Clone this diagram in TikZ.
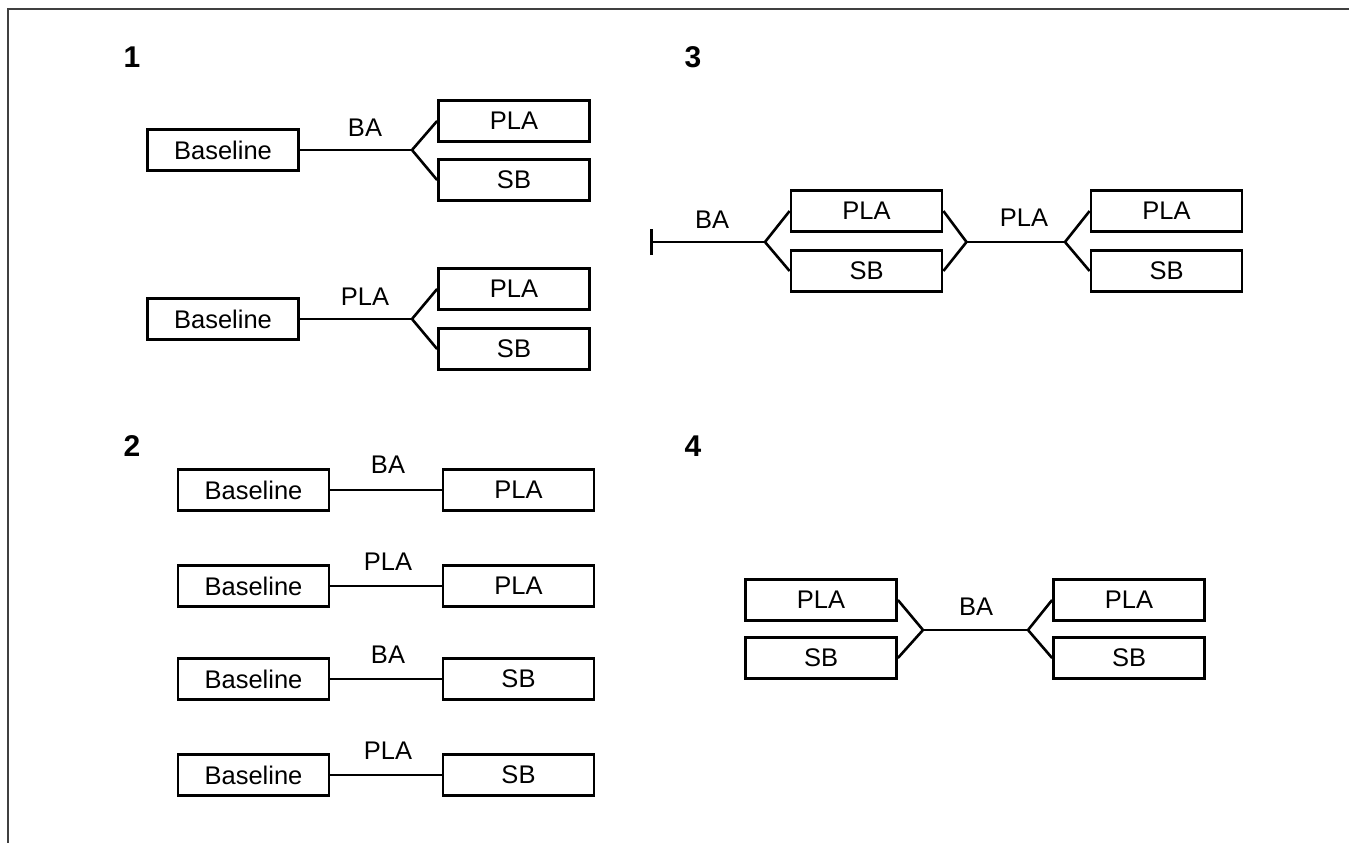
\documentclass[tikz,border=0pt]{standalone}
\usepackage{fontspec}
\setmainfont{Liberation Sans}
\begin{document}
\begin{tikzpicture}[x=1pt,y=-1pt,
  box/.style={draw, line width=2.8pt, minimum width=151pt, minimum height=41pt, inner sep=0pt, font=\fontsize{25.5}{30}\selectfont},
  lbl/.style={font=\fontsize{25.5}{30}\selectfont, inner sep=0pt},
  num/.style={font=\fontsize{30}{36}\selectfont\bfseries, inner sep=0pt},
  conn/.style={line width=2.6pt, line join=miter},
  frame/.style={line width=2pt, draw=black!75}]
\useasboundingbox (0,0) rectangle (1349,843);
% frame (top and left edges)
\coordinate (fa) at (8,843);
\coordinate (fb) at (8,9);
\coordinate (fc) at (1349,9);
\draw[frame] (fa) -- (fb) -- (fc);

% panel numbers
\node[num] (n1) at (132,57) {1};
\node[num] (n2) at (132,446) {2};
\node[num] (n3) at (693,57) {3};
\node[num] (n4) at (693,446) {4};

% ---------- Panel 1 ----------
\node[box] (b1a) at (223,150) {Baseline};
\node[box] (p1a) at (514,121) {PLA};
\node[box] (s1a) at (514,180) {SB};
\coordinate (j1a) at (412,150);
\draw[conn] (b1a.east) -- (j1a);
\draw[conn] (p1a.west) -- (j1a) -- (s1a.west);
\node[lbl] (l1a) at (365,128) {BA};

\node[box] (b1b) at (223,319) {Baseline};
\node[box] (p1b) at (514,289) {PLA};
\node[box] (s1b) at (514,349) {SB};
\coordinate (j1b) at (412,319);
\draw[conn] (b1b.east) -- (j1b);
\draw[conn] (p1b.west) -- (j1b) -- (s1b.west);
\node[lbl] (l1b) at (365,297) {PLA};

% ---------- Panel 2 ----------
\node[box] (b2a) at (253.5,490) {Baseline};
\node[box] (r2a) at (518.5,490) {PLA};
\draw[conn] (b2a.east) -- (r2a.west);
\node[lbl] (l2a) at (388,465) {BA};

\node[box] (b2b) at (253.5,586) {Baseline};
\node[box] (r2b) at (518.5,586) {PLA};
\draw[conn] (b2b.east) -- (r2b.west);
\node[lbl] (l2b) at (388,562) {PLA};

\node[box] (b2c) at (253.5,679) {Baseline};
\node[box] (r2c) at (518.5,679) {SB};
\draw[conn] (b2c.east) -- (r2c.west);
\node[lbl] (l2c) at (388,655) {BA};

\node[box] (b2d) at (253.5,775) {Baseline};
\node[box] (r2d) at (518.5,775) {SB};
\draw[conn] (b2d.east) -- (r2d.west);
\node[lbl] (l2d) at (388,751) {PLA};

% ---------- Panel 3 ----------
\coordinate (st3) at (651.5,242);
\draw[conn] ([yshift=-13pt]st3) -- ([yshift=13pt]st3);
\node[box] (p3a) at (866.5,211) {PLA};
\node[box] (s3a) at (866.5,271) {SB};
\coordinate (j3a) at (765,242);
\draw[conn] (st3) -- (j3a);
\draw[conn] (p3a.west) -- (j3a) -- (s3a.west);
\node[lbl] (l3a) at (712,220) {BA};
\coordinate (m3) at (966.5,242);
\draw[conn] (p3a.east) -- (m3) -- (s3a.east);
\node[box] (p3b) at (1166.5,211) {PLA};
\node[box] (s3b) at (1166.5,271) {SB};
\coordinate (j3b) at (1065,242);
\draw[conn] (m3) -- (j3b);
\draw[conn] (p3b.west) -- (j3b) -- (s3b.west);
\node[lbl] (l3b) at (1024,218) {PLA};

% ---------- Panel 4 ----------
\node[box] (p4a) at (821,600) {PLA};
\node[box] (s4a) at (821,658) {SB};
\coordinate (m4) at (923,630);
\draw[conn] (p4a.east) -- (m4) -- (s4a.east);
\node[box] (p4b) at (1129,600) {PLA};
\node[box] (s4b) at (1129,658) {SB};
\coordinate (j4) at (1028,630);
\draw[conn] (m4) -- (j4);
\draw[conn] (p4b.west) -- (j4) -- (s4b.west);
\node[lbl] (l4) at (976,607) {BA};
\end{tikzpicture}
\end{document}
